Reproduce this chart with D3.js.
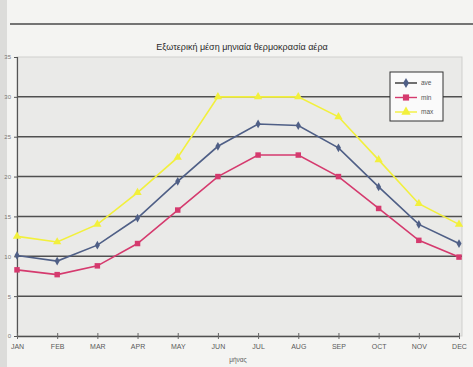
<!DOCTYPE html>
<html>
<head>
<meta charset="utf-8">
<script src="https://cdn.jsdelivr.net/npm/d3@7/dist/d3.min.js"></script>
<style>
  html, body { margin: 0; padding: 0; background: #f4f4f2; }
  svg { display: block; }
  text { font-family: "Liberation Sans", Arial, sans-serif; }
</style>
</head>
<body>
<svg id="chart" width="473" height="367"></svg>
<script>
// Monthly outdoor air temperature (°C)
const months = ["JAN","FEB","MAR","APR","MAY","JUN","JUL","AUG","SEP","OCT","NOV","DEC"];
const aveValues = [10.1, 9.4, 11.4, 14.8, 19.4, 23.8, 26.6, 26.4, 23.6, 18.7, 14.0, 11.6];
const minValues = [8.3, 7.7, 8.8, 11.6, 15.8, 20.0, 22.7, 22.7, 20.0, 16.0, 12.0, 9.9];
const maxValues = [12.5, 11.8, 14.0, 18.0, 22.4, 30.0, 30.0, 30.0, 27.5, 22.1, 16.6, 14.0];
const yTicks = [0, 5, 10, 15, 20, 25, 30, 35];
const seriesNames = ["ave", "min", "max"];
const titleText = "Εξωτερική μέση μηνιαία θερμοκρασία αέρα";
const xTitle = "μήνας";

const series = [
  { name: seriesNames[0], values: aveValues, color: "#4f5f86", marker: d3.symbolDiamond, size: 22 },
  { name: seriesNames[1], values: minValues, color: "#d53a6e", marker: d3.symbolSquare, size: 30 },
  { name: seriesNames[2], values: maxValues, color: "#f2f03c", marker: d3.symbolTriangle, size: 30 }
];

const svg = d3.select("#chart");
const plot = { left: 17, right: 462, top: 57, bottom: 336, lastX: 459 };

const x = d3.scalePoint().domain(months).range([plot.left, plot.lastX]);
const y = d3.scaleLinear().domain([0, 35]).range([plot.bottom, plot.top]);

// page edge and header rule
svg.append("rect").attr("x", 0).attr("y", 0).attr("width", 7).attr("height", 367).attr("fill", "#dcdcda");
svg.append("line").attr("x1", 10).attr("x2", 473).attr("y1", 24).attr("y2", 24)
  .attr("stroke", "#4a4a4a").attr("stroke-width", 1.4);

// plot area background
svg.append("rect")
  .attr("x", plot.left).attr("y", plot.top)
  .attr("width", plot.right - plot.left).attr("height", plot.bottom - plot.top)
  .attr("fill", "#eaeae8").attr("stroke", "#cfcfcd");

// horizontal gridlines
svg.append("g").selectAll("line")
  .data(yTicks.filter(t => t > 0 && t < 35))
  .join("line")
  .attr("x1", plot.left).attr("x2", plot.right)
  .attr("y1", d => y(d)).attr("y2", d => y(d))
  .attr("stroke", "#505050").attr("stroke-width", 1.5);

// y axis
const yAxis = d3.axisLeft(y).tickValues(yTicks).tickSize(3).tickPadding(3);
const gy = svg.append("g").attr("transform", `translate(${plot.left},0)`).call(yAxis);
gy.select(".domain").attr("stroke", "#555").attr("stroke-width", 1.2);
gy.selectAll(".tick line").attr("stroke", "#555");
gy.selectAll(".tick text").attr("font-size", 6).attr("fill", "#777");

// x axis
const xAxis = d3.axisBottom(x).tickSize(0).tickPadding(12);
const gx = svg.append("g").attr("transform", `translate(0,${plot.bottom})`).call(xAxis);
gx.select(".domain").attr("stroke", "#505050").attr("stroke-width", 1.5);
gx.selectAll(".tick line").remove();
gx.selectAll(".tick").append("line").attr("y1", -3).attr("y2", 3).attr("stroke", "#666");
gx.selectAll(".tick text").attr("font-size", 7).attr("fill", "#5a5a5a").attr("dy", "0.15em");

// title and axis title
svg.append("text").attr("x", 242).attr("y", 50).attr("text-anchor", "middle")
  .attr("font-size", 9).attr("fill", "#2a2a2a").text(titleText);
svg.append("text").attr("x", 238).attr("y", 362).attr("text-anchor", "middle")
  .attr("font-size", 6.5).attr("fill", "#5a5a5a").text(xTitle);

// series lines and markers
const line = d3.line().x((d, i) => x(months[i])).y(d => y(d));
series.forEach(s => {
  svg.append("path").datum(s.values).attr("d", line)
    .attr("fill", "none").attr("stroke", s.color).attr("stroke-width", 1.6);
  svg.append("g").selectAll("path").data(s.values).join("path")
    .attr("d", d3.symbol().type(s.marker).size(s.size))
    .attr("transform", (d, i) => `translate(${x(months[i])},${y(d)})`)
    .attr("fill", s.color);
});

// legend
const lg = svg.append("g").attr("transform", "translate(390,72)");
lg.append("rect").attr("width", 53).attr("height", 49).attr("fill", "#fafafa")
  .attr("stroke", "#333").attr("stroke-width", 1);
series.forEach((s, i) => {
  const yy = 11 + i * 14.5;
  lg.append("line").attr("x1", 5).attr("x2", 27).attr("y1", yy).attr("y2", yy)
    .attr("stroke", s.name === "ave" ? "#333" : s.color).attr("stroke-width", 1.4);
  lg.append("path").attr("d", d3.symbol().type(s.marker).size(s.size + 8)())
    .attr("transform", `translate(16,${yy})`).attr("fill", s.color);
  lg.append("text").attr("x", 31).attr("y", yy + 2.2).attr("font-size", 6.5)
    .attr("fill", "#555").text(s.name);
});
</script>
</body>
</html>
